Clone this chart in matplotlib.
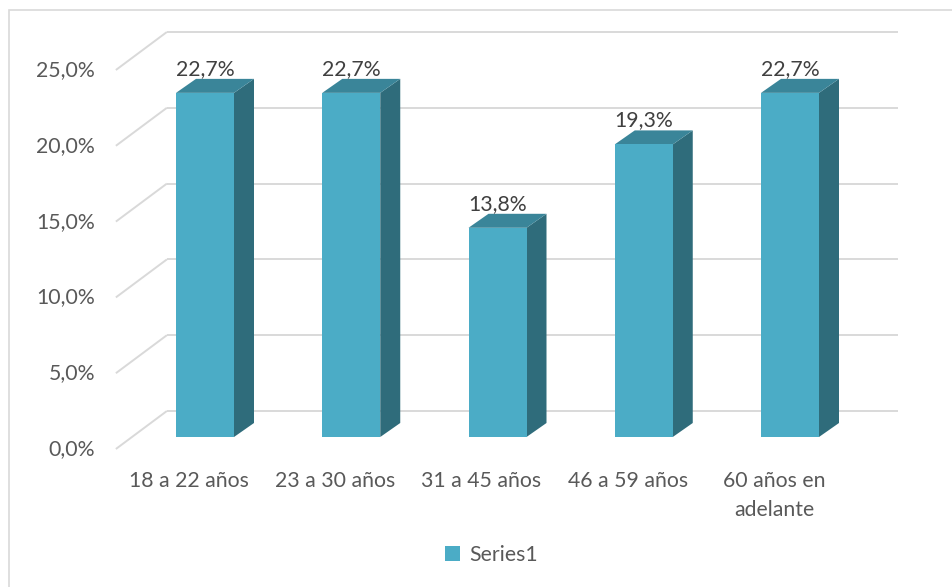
import matplotlib
matplotlib.use("Agg")
import matplotlib.pyplot as plt
from matplotlib.patches import Polygon, Rectangle

# Data
categories = ["18 a 22 años", "23 a 30 años", "31 a 45 años", "46 a 59 años", "60 años en\nadelante"]
values = [22.7, 22.7, 13.8, 19.3, 22.7]
value_labels = ["22,7%", "22,7%", "13,8%", "19,3%", "22,7%"]
yticks = [0, 5, 10, 15, 20, 25]
ytick_labels = ["0,0%", "5,0%", "10,0%", "15,0%", "20,0%", "25,0%"]
series_name = "Series1"

# Colours
FRONT = "#4BACC6"
TOP = "#3A8599"
SIDE = "#2F6C7B"
GRID = "#D9D9D9"
TEXT = "#595959"
VALTEXT = "#404040"
FS = 15.3

plt.rcParams["font.family"] = ["Lato", "DejaVu Sans"]

W, H, DPI = 952, 587, 100
fig = plt.figure(figsize=(W / DPI, H / DPI), dpi=DPI)
ax = fig.add_axes([0, 0, 1, 1])

# Axis scale: one category step and one percent in pixels
PX_CAT = 146.25
PX_PCT = 15.16
X0_PX, Y0_PX = 205.0, 437.0
ax.set_xlim(-X0_PX / PX_CAT, (W - X0_PX) / PX_CAT)
ax.set_ylim((Y0_PX - H) / PX_PCT, Y0_PX / PX_PCT)
ax.axis("off")

# Oblique projection offsets (in data units)
BX, BY = 35 / PX_CAT, 26 / PX_PCT      # back wall relative to bar fronts
FX, FY = -16 / PX_CAT, -12 / PX_PCT    # front axis plane relative to bar fronts
DX, DY = 20 / PX_CAT, 14 / PX_PCT      # bar depth
HALF = 29 / PX_CAT                      # half bar width

n = len(categories)
left_edge, right_edge = -0.5, n - 0.5

# Gridlines on the back wall and side wall
for t, lab in zip(yticks, ytick_labels):
    ax.plot([left_edge + BX, right_edge + BX], [t + BY, t + BY],
            color=GRID, lw=1.4, solid_capstyle="butt", zorder=1)
    ax.plot([left_edge + FX, left_edge + BX], [t + FY, t + BY],
            color=GRID, lw=1.4, solid_capstyle="butt", zorder=1)
    ax.text(left_edge + FX - 21 / PX_CAT, t + FY, lab, ha="right", va="center",
            fontsize=FS, color=TEXT, zorder=5)

# 3D columns
front_handle = None
for i, (v, lab) in enumerate(zip(values, value_labels)):
    x1, x2 = i - HALF, i + HALF
    front = Polygon([(x1, 0), (x2, 0), (x2, v), (x1, v)], closed=True,
                    facecolor=FRONT, edgecolor="none", zorder=3,
                    label=series_name if i == 0 else None)
    side = Polygon([(x2, 0), (x2 + DX, DY), (x2 + DX, v + DY), (x2, v)], closed=True,
                   facecolor=SIDE, edgecolor="none", zorder=3)
    top = Polygon([(x1, v), (x2, v), (x2 + DX, v + DY), (x1 + DX, v + DY)], closed=True,
                  facecolor=TOP, edgecolor="none", zorder=3)
    for p in (side, top, front):
        ax.add_patch(p)
    if i == 0:
        front_handle = front
    ax.text(i, v + DY + 4 / PX_PCT, lab, ha="center", va="baseline",
            fontsize=FS, color=VALTEXT, zorder=6)

# Category labels on the front plane
for i, c in enumerate(categories):
    ax.text(i + FX, FY - 22 / PX_PCT, c, ha="center", va="top",
            fontsize=FS, color=TEXT, linespacing=1.55, zorder=5)

# Legend
leg = fig.legend(handles=[front_handle], loc="center", bbox_to_anchor=(0.516, 1 - 555 / H),
                 frameon=False, fontsize=FS, handlelength=0.72, handleheight=0.72,
                 handletextpad=0.4, borderpad=0)
for t in leg.get_texts():
    t.set_color(TEXT)

# Chart area border
fig.patches.append(Rectangle((9 / W, -0.01), 1.0, 1 - 10 / H + 0.01,
                             transform=fig.transFigure, fill=False,
                             edgecolor="#D9D9D9", lw=1.2))

fig.savefig("out.png", dpi=DPI)
